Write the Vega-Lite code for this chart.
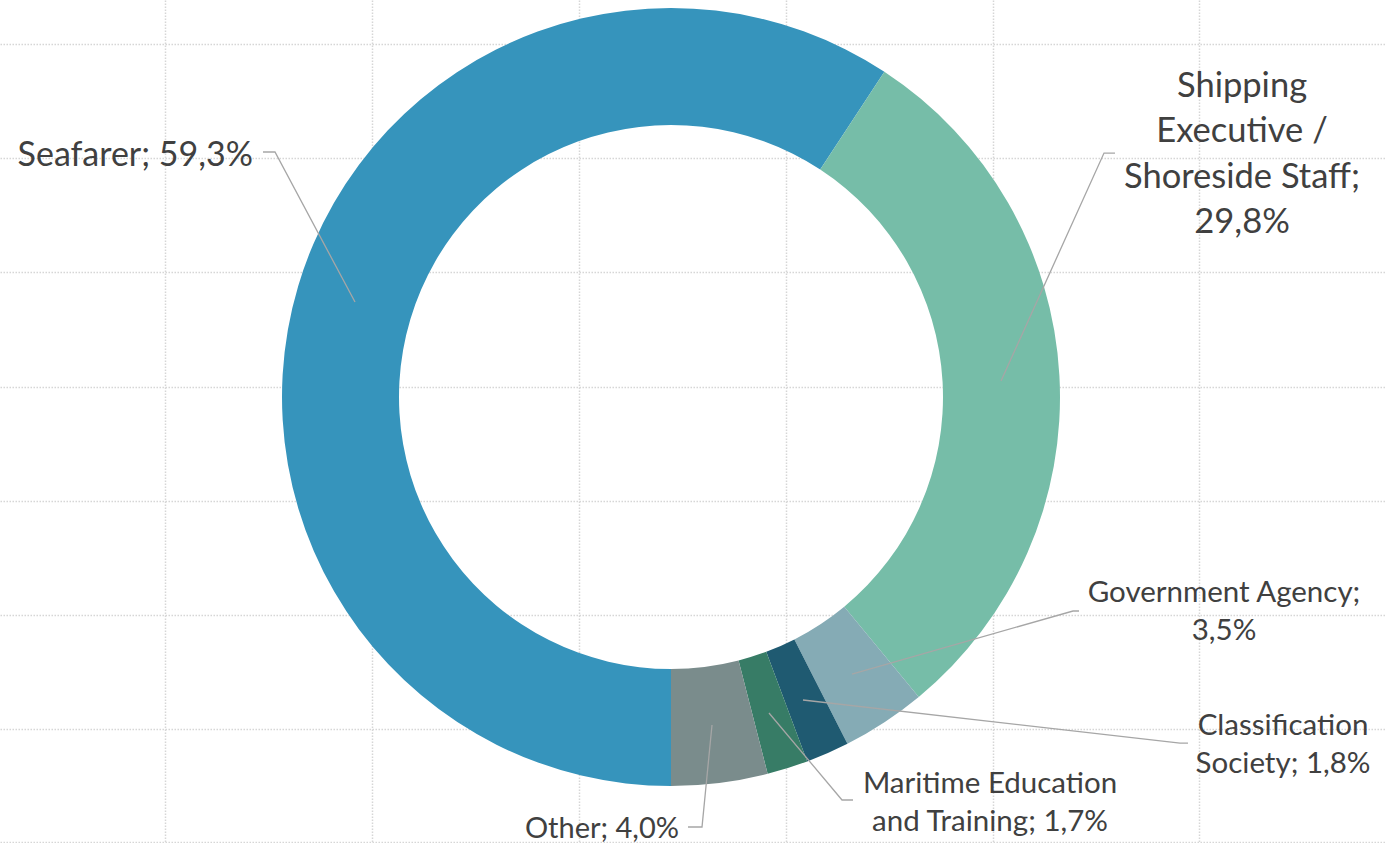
{
  "$schema": "https://vega.github.io/schema/vega-lite/v6.json",
  "width": 1386,
  "height": 843,
  "autosize": {"type": "none"},
  "padding": 0,
  "background": "white",
  "config": {
    "view": {"stroke": null},
    "axis": {
      "labels": false, "ticks": false, "domain": false, "title": null,
      "grid": true, "gridColor": "#D6D6D6", "gridDash": [1.5, 1.5], "gridWidth": 1.5
    }
  },
  "datasets": {
    "shares": [
      {"category": "Seafarer", "share": 59.3, "order": 1},
      {"category": "Shipping Executive / Shoreside Staff", "share": 29.8, "order": 2},
      {"category": "Government Agency", "share": 3.5, "order": 3},
      {"category": "Classification Society", "share": 1.8, "order": 4},
      {"category": "Maritime Education and Training", "share": 1.7, "order": 5},
      {"category": "Other", "share": 4.0, "order": 6}
    ],
    "callouts": [
      {"category": "Seafarer", "size": "large", "align": "right", "label": "Seafarer; 59,3%", "u": -1.0746, "v": 0.5938},
      {"category": "Shipping Executive / Shoreside Staff", "size": "large", "align": "center", "label": "Shipping\nExecutive /\nShoreside Staff;\n29,8%", "u": 1.4679, "v": 0.7712},
      {"category": "Government Agency", "size": "small", "align": "center", "label": "Government Agency;\n3,5%", "u": 1.4216, "v": -0.5270},
      {"category": "Classification Society", "size": "small", "align": "center", "label": "Classification\nSociety; 1,8%", "u": 1.5733, "v": -0.8689},
      {"category": "Maritime Education and Training", "size": "small", "align": "center", "label": "Maritime Education\nand Training; 1,7%", "u": 0.8201, "v": -1.0180},
      {"category": "Other", "size": "small", "align": "right", "label": "Other; 4,0%", "u": 0.0206, "v": -1.1337}
    ],
    "leaders": [
      {"category": "Seafarer", "pt": 1, "u": -1.0488, "v": 0.6298},
      {"category": "Seafarer", "pt": 2, "u": -1.0180, "v": 0.6298},
      {"category": "Seafarer", "pt": 3, "u": -0.8123, "v": 0.2442},
      {"category": "Shipping Executive / Shoreside Staff", "pt": 1, "u": 1.1414, "v": 0.6272},
      {"category": "Shipping Executive / Shoreside Staff", "pt": 2, "u": 1.1131, "v": 0.6272},
      {"category": "Shipping Executive / Shoreside Staff", "pt": 3, "u": 0.8483, "v": 0.0411},
      {"category": "Government Agency", "pt": 1, "u": 1.0488, "v": -0.5501},
      {"category": "Government Agency", "pt": 2, "u": 1.0334, "v": -0.5501},
      {"category": "Government Agency", "pt": 3, "u": 0.4653, "v": -0.7121},
      {"category": "Classification Society", "pt": 1, "u": 1.3290, "v": -0.8895},
      {"category": "Classification Society", "pt": 2, "u": 1.3085, "v": -0.8895},
      {"category": "Classification Society", "pt": 3, "u": 0.3393, "v": -0.7789},
      {"category": "Maritime Education and Training", "pt": 1, "u": 0.4679, "v": -1.0360},
      {"category": "Maritime Education and Training", "pt": 2, "u": 0.4396, "v": -1.0360},
      {"category": "Maritime Education and Training", "pt": 3, "u": 0.2519, "v": -0.8123},
      {"category": "Other", "pt": 1, "u": 0.0437, "v": -1.1054},
      {"category": "Other", "pt": 2, "u": 0.0797, "v": -1.1054},
      {"category": "Other", "pt": 3, "u": 0.1054, "v": -0.8432}
    ]
  },
  "encoding": {
    "x": {
      "type": "quantitative",
      "scale": {"domain": [-1.7249, 1.8380], "nice": false, "zero": false},
      "axis": {"values": [-1.3008, -0.7686, -0.2365, 0.2956, 0.8278, 1.3573]}
    },
    "y": {
      "type": "quantitative",
      "scale": {"domain": [-1.1465, 1.0206], "nice": false, "zero": false},
      "axis": {"values": [0.9075, 0.6144, 0.3213, 0.0257, -0.2674, -0.5604, -0.8535, -1.1440]}
    }
  },
  "layer": [
    {
      "data": {"name": "shares"},
      "mark": {"type": "arc", "outerRadius": 389, "innerRadius": 272},
      "encoding": {
        "x": {"datum": 0, "type": "quantitative"},
        "y": {"datum": 0, "type": "quantitative"},
        "theta": {
          "field": "share", "type": "quantitative", "stack": true,
          "scale": {"range": [3.14159265, 9.42477796]}
        },
        "order": {"field": "order", "type": "quantitative"},
        "color": {
          "field": "category", "type": "nominal", "legend": null,
          "scale": {
            "domain": ["Seafarer", "Shipping Executive / Shoreside Staff", "Government Agency", "Classification Society", "Maritime Education and Training", "Other"],
            "range": ["#3694BC", "#76BDA8", "#85ABB5", "#1F5A71", "#377C66", "#7A8C8C"]
          }
        }
      }
    },
    {
      "data": {"name": "leaders"},
      "mark": {"type": "line", "color": "#A6A6A6", "strokeWidth": 1.3, "interpolate": "linear"},
      "encoding": {
        "x": {"field": "u", "type": "quantitative"},
        "y": {"field": "v", "type": "quantitative"},
        "detail": {"field": "category"},
        "order": {"field": "pt", "type": "quantitative"}
      }
    },
    {
      "data": {"name": "callouts"},
      "transform": [{"filter": "datum.size == 'large' && datum.align == 'right'"}],
      "mark": {"type": "text", "font": "Lato", "fontSize": 34, "color": "#404040", "align": "right", "baseline": "alphabetic", "lineBreak": "\n", "lineHeight": 45},
      "encoding": {
        "x": {"field": "u", "type": "quantitative"},
        "y": {"field": "v", "type": "quantitative"},
        "text": {"field": "label", "type": "nominal"}
      }
    },
    {
      "data": {"name": "callouts"},
      "transform": [{"filter": "datum.size == 'large' && datum.align == 'center'"}],
      "mark": {"type": "text", "font": "Lato", "fontSize": 34.5, "color": "#404040", "align": "center", "baseline": "alphabetic", "lineBreak": "\n", "lineHeight": 45.3},
      "encoding": {
        "x": {"field": "u", "type": "quantitative"},
        "y": {"field": "v", "type": "quantitative"},
        "text": {"field": "label", "type": "nominal"}
      }
    },
    {
      "data": {"name": "callouts"},
      "transform": [{"filter": "datum.size == 'small' && datum.align == 'center'"}],
      "mark": {"type": "text", "font": "Lato", "fontSize": 29.5, "color": "#404040", "align": "center", "baseline": "alphabetic", "lineBreak": "\n", "lineHeight": 38},
      "encoding": {
        "x": {"field": "u", "type": "quantitative"},
        "y": {"field": "v", "type": "quantitative"},
        "text": {"field": "label", "type": "nominal"}
      }
    },
    {
      "data": {"name": "callouts"},
      "transform": [{"filter": "datum.size == 'small' && datum.align == 'right'"}],
      "mark": {"type": "text", "font": "Lato", "fontSize": 29, "color": "#404040", "align": "right", "baseline": "alphabetic", "lineBreak": "\n", "lineHeight": 38},
      "encoding": {
        "x": {"field": "u", "type": "quantitative"},
        "y": {"field": "v", "type": "quantitative"},
        "text": {"field": "label", "type": "nominal"}
      }
    }
  ]
}
